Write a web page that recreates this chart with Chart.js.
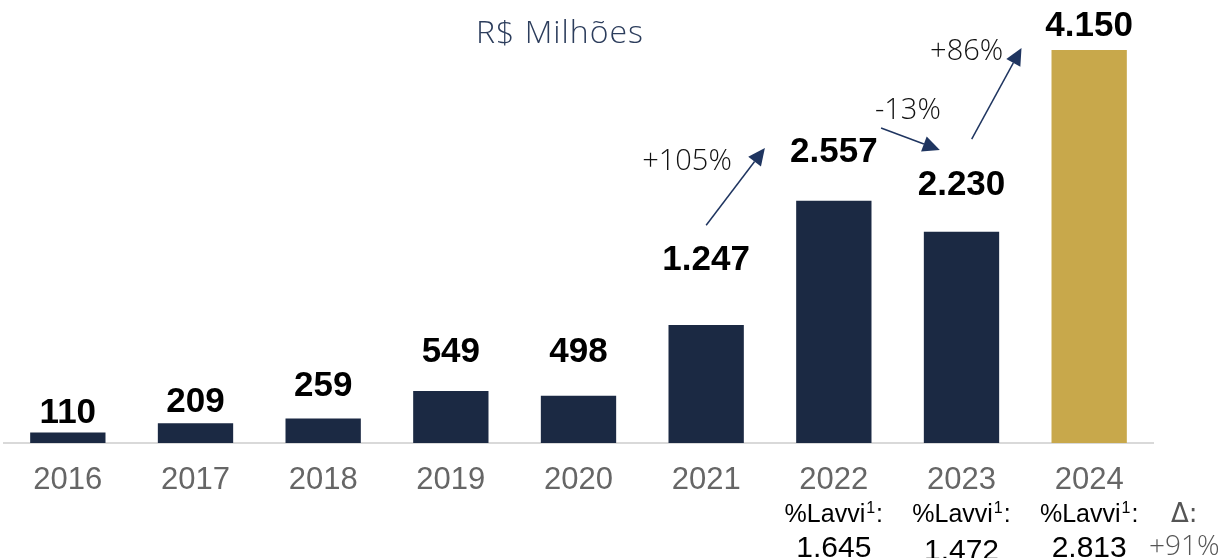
<!DOCTYPE html>
<html>
<head>
<meta charset="utf-8">
<script src="https://cdn.jsdelivr.net/npm/chart.js@4.4.1/dist/chart.umd.min.js"></script>
<style>
  html, body { margin: 0; padding: 0; background: #ffffff; }
  #wrap { width: 1219px; height: 558px; position: relative; }
</style>
</head>
<body>
<div id="wrap"><canvas id="c" width="1219" height="558"></canvas></div>
<script>
// ---- data ----
const years = ['2016', '2017', '2018', '2019', '2020', '2021', '2022', '2023', '2024'];
const values = [110, 209, 259, 549, 498, 1247, 2557, 2230, 4150];
const valueLabels = ['110', '209', '259', '549', '498', '1.247', '2.557', '2.230', '4.150'];
const lavviYears = ['2022', '2023', '2024'];
const lavviValues = ['1.645', '1.472', '2.813'];
const growthLabels = ['+105%', '-13%', '+86%'];
const deltaLabel = '+91%';
const unitTitle = 'R$ Milhões';

// ---- styles / annotation placement ----
const NAVY = '#1b2943';
const GOLD = '#c8a84b';
const barColors = values.map((v, i) => i === values.length - 1 ? GOLD : NAVY);
const labelGaps = [10, 11, 22, 29, 34, 55, 39, 37, 14];
// arrows in data coordinates (category index, value)
const arrowDefs = [
  { from: [5.0, 2300], to: [5.46, 3115] },
  { from: [6.37, 3327], to: [6.83, 3094] },
  { from: [7.08, 3210], to: [7.47, 4171] }
];
const growthPos = [[4.85, 2967], [6.58, 3506], [7.04, 4129]];

function drawLavvi(ctx, x, y) {
  const f1 = '25px "Liberation Sans", Arial, sans-serif';
  const f2 = '16px "Liberation Sans", Arial, sans-serif';
  ctx.font = f1;
  const w1 = ctx.measureText('%Lavvi').width;
  const w3 = ctx.measureText(':').width;
  ctx.font = f2;
  const w2 = ctx.measureText('1').width + 2;
  const total = w1 + w2 + w3;
  const sx = x - total / 2;
  ctx.textAlign = 'left';
  ctx.font = f1;
  ctx.fillText('%Lavvi', sx, y);
  ctx.font = f2;
  ctx.fillText('1', sx + w1 + 1, y - 9);
  ctx.font = f1;
  ctx.fillText(':', sx + w1 + w2, y);
  ctx.textAlign = 'center';
}

const overlay = {
  id: 'overlay',
  afterDatasetsDraw(chart) {
    const ctx = chart.ctx;
    const xs = chart.scales.x, ys = chart.scales.y;
    const meta = chart.getDatasetMeta(0);
    ctx.save();
    // value labels
    ctx.fillStyle = '#000';
    ctx.font = 'bold 35px "Liberation Sans", Arial, sans-serif';
    ctx.textAlign = 'center';
    ctx.textBaseline = 'alphabetic';
    meta.data.forEach((bar, i) => {
      ctx.fillText(valueLabels[i], bar.x, bar.y - labelGaps[i]);
    });
    // title
    ctx.fillStyle = '#2c3d5c';
    ctx.font = '300 32px "Open Sans", sans-serif';
    try { ctx.letterSpacing = '1px'; } catch (e) {}
    ctx.fillText(unitTitle, 560, 43);
    try { ctx.letterSpacing = '0px'; } catch (e) {}
    // growth labels
    ctx.fillStyle = '#111';
    ctx.font = '300 29px "Open Sans", sans-serif';
    ctx.textBaseline = 'middle';
    growthLabels.forEach((t, i) => {
      ctx.fillText(t, xs.getPixelForValue(growthPos[i][0]), ys.getPixelForValue(growthPos[i][1]));
    });
    // arrows
    ctx.strokeStyle = '#1f3560';
    ctx.fillStyle = '#1f3560';
    ctx.lineWidth = 1.5;
    arrowDefs.forEach(a => {
      const x1 = xs.getPixelForValue(a.from[0]), y1 = ys.getPixelForValue(a.from[1]);
      const x2 = xs.getPixelForValue(a.to[0]), y2 = ys.getPixelForValue(a.to[1]);
      const ang = Math.atan2(y2 - y1, x2 - x1);
      const hl = 17, hw = 8;
      const bx = x2 - hl * Math.cos(ang), by = y2 - hl * Math.sin(ang);
      ctx.beginPath();
      ctx.moveTo(x1, y1);
      ctx.lineTo(bx, by);
      ctx.stroke();
      ctx.beginPath();
      ctx.moveTo(x2, y2);
      ctx.lineTo(bx + hw * Math.sin(ang), by - hw * Math.cos(ang));
      ctx.lineTo(bx - hw * Math.sin(ang), by + hw * Math.cos(ang));
      ctx.closePath();
      ctx.fill();
    });
    // %Lavvi lines
    ctx.textBaseline = 'alphabetic';
    lavviYears.forEach((yr, k) => {
      const idx = years.indexOf(yr);
      const x = xs.getPixelForValue(idx);
      ctx.fillStyle = '#000';
      drawLavvi(ctx, x, 522);
      ctx.font = '30px "Liberation Sans", Arial, sans-serif';
      ctx.fillText(lavviValues[k], x, 557 + (k === 1 ? 3 : 0));
    });
    // delta
    const dx = xs.getPixelForValue(years.length - 1 + 0.745);
    ctx.fillStyle = '#555';
    ctx.font = '26px "DejaVu Sans", sans-serif';
    ctx.fillText('Δ:', dx, 522);
    ctx.font = '300 28px "Open Sans", sans-serif';
    ctx.fillText(deltaLabel, dx, 555);
    ctx.restore();
  }
};

new Chart(document.getElementById('c'), {
  type: 'bar',
  data: {
    labels: years,
    datasets: [{
      data: values,
      backgroundColor: barColors,
      borderWidth: 0,
      barPercentage: 0.59,
      categoryPercentage: 1.0
    }]
  },
  options: {
    responsive: false,
    animation: false,
    events: [],
    layout: { padding: { top: 50, left: 4, right: 66, bottom: 0 } },
    plugins: { legend: { display: false }, tooltip: { enabled: false }, title: { display: false } },
    scales: {
      x: {
        grid: { display: false, drawTicks: false },
        border: { display: true, color: '#d9d9d9', width: 2 },
        ticks: {
          color: '#666666',
          font: { family: '"Liberation Sans", Arial, sans-serif', size: 31 },
          padding: 19,
          maxRotation: 0,
          autoSkip: false
        },
        afterFit(scale) { scale.height = 115; }
      },
      y: {
        display: false,
        min: 0,
        max: 4150
      }
    }
  },
  plugins: [overlay]
});
</script>
</body>
</html>
